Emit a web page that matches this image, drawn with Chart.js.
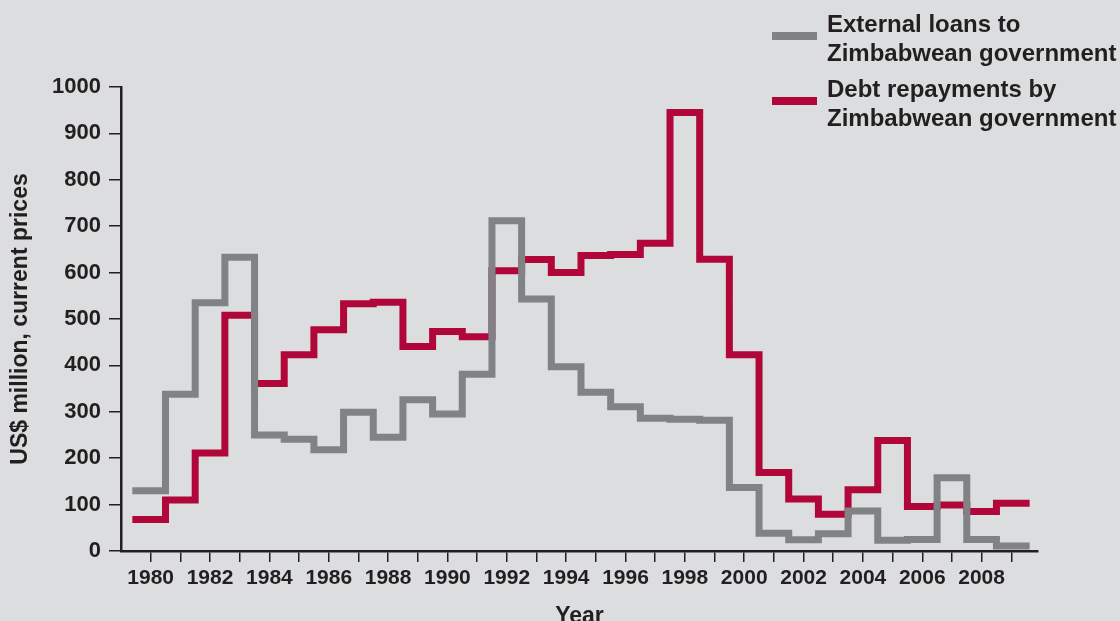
<!DOCTYPE html>
<html>
<head>
<meta charset="utf-8">
<script src="https://cdn.jsdelivr.net/npm/chart.js@4.4.0/dist/chart.umd.min.js"></script>
<style>
  html, body { margin: 0; padding: 0; background: #dcdddf; }
  #wrap { width: 1120px; height: 621px; position: relative; }
</style>
</head>
<body>
<div id="wrap"><canvas id="chart" width="1120" height="621"></canvas></div>
<script>
// years on the x axis
const years = [1980, 1981, 1982, 1983, 1984, 1985, 1986, 1987, 1988, 1989,
  1990, 1991, 1992, 1993, 1994, 1995, 1996, 1997, 1998, 1999,
  2000, 2001, 2002, 2003, 2004, 2005, 2006, 2007, 2008, 2009];

// US$ million, current prices
const loans = [130, 338, 535, 633, 250, 241, 218, 299, 245, 326,
  295, 381, 712, 543, 397, 342, 311, 286, 284, 282,
  137, 38, 24, 37, 86, 23, 25, 158, 25, 11];
const repayments = [68, 110, 211, 508, 361, 423, 477, 533, 536, 441,
  473, 462, 604, 628, 600, 637, 639, 663, 945, 629,
  423, 169, 112, 79, 132, 238, 96, 99, 85, 103];

const loansLabel = ['External loans to', 'Zimbabwean government'];
const repayLabel = ['Debt repayments by', 'Zimbabwean government'];
const yTicks = [0, 100, 200, 300, 400, 500, 600, 700, 800, 900, 1000];

const ink = '#231f20';
const grey = '#818285';
const red = '#b1063a';
const fam = '"Liberation Sans", Arial, sans-serif';

// each year is a flat step, half a year either side of the tick
const toSteps = (vals) => vals.flatMap((v, i) => [
  { x: years[i] - 0.5, y: v },
  { x: years[i] + 0.5, y: v },
]);

// legend drawn by hand, two lines of text per entry
const sideLegend = {
  id: 'sideLegend',
  afterDraw(chart) {
    const ctx = chart.ctx;
    ctx.save();
    ctx.font = 'bold 24px ' + fam;
    ctx.textBaseline = 'alphabetic';
    ctx.textAlign = 'left';
    chart.data.datasets.forEach((ds, i) => {
      const top = 32 + i * 65;
      ctx.fillStyle = ds.borderColor;
      ctx.fillRect(772, top, 45, 8);
      ctx.fillStyle = ink;
      ds.legendLines.forEach((t, j) => ctx.fillText(t, 827, top + j * 29));
    });
    ctx.restore();
  }
};

new Chart(document.getElementById('chart'), {
  type: 'line',
  data: {
    datasets: [
      {
        label: loansLabel.join(' '),
        legendLines: loansLabel,
        data: toSteps(loans),
        borderColor: grey,
        borderWidth: 7,
        borderCapStyle: 'square',
        borderJoinStyle: 'miter',
        pointRadius: 0,
        fill: false,
      },
      {
        label: repayLabel.join(' '),
        legendLines: repayLabel,
        data: toSteps(repayments),
        borderColor: red,
        borderWidth: 7,
        borderCapStyle: 'square',
        borderJoinStyle: 'miter',
        pointRadius: 0,
        fill: false,
      },
    ],
  },
  options: {
    responsive: false,
    animation: false,
    layout: { padding: { top: 87, right: 82, left: 0, bottom: 0 } },
    plugins: {
      legend: { display: false },
      tooltip: { enabled: false },
    },
    scales: {
      x: {
        type: 'linear',
        min: 1979,
        max: 2009.9,
        afterFit: (s) => { s.height = 70; },
        afterBuildTicks: (s) => { s.ticks = years.map(v => ({ value: v })); },
        border: { display: true, color: ink, width: 2.5 },
        grid: { drawOnChartArea: false, drawTicks: true, tickLength: 11, color: ink, lineWidth: 1.5 },
        ticks: {
          autoSkip: false,
          maxRotation: 0,
          padding: 4,
          color: ink,
          font: { family: fam, size: 21, weight: 'bold' },
          callback: (v) => (v % 2 === 0 ? String(v) : ''),
        },
        title: {
          display: true,
          text: 'Year',
          color: ink,
          font: { family: fam, size: 23, weight: 'bold', lineHeight: 0.35 },
          padding: { top: 0, bottom: 0 },
        },
      },
      y: {
        min: 0,
        max: 1000,
        afterFit: (s) => { s.width = 121; },
        afterBuildTicks: (s) => { s.ticks = yTicks.map(v => ({ value: v })); },
        border: { display: true, color: ink, width: 2.5 },
        grid: { drawOnChartArea: false, drawTicks: true, tickLength: 12, color: ink, lineWidth: 1.5 },
        ticks: {
          padding: 8,
          color: ink,
          font: { family: fam, size: 22, weight: 'bold' },
          callback: (v) => String(v),
        },
        title: {
          display: true,
          text: 'US$ million, current prices',
          color: ink,
          font: { family: fam, size: 23, weight: 'bold' },
          padding: { top: 7, bottom: 0 },
        },
      },
    },
  },
  plugins: [sideLegend, {
    id: 'bg',
    beforeDraw(chart) {
      const c = chart.ctx;
      c.save();
      c.fillStyle = '#dcdddf';
      c.fillRect(0, 0, chart.width, chart.height);
      c.restore();
    }
  }],
});
</script>
</body>
</html>
